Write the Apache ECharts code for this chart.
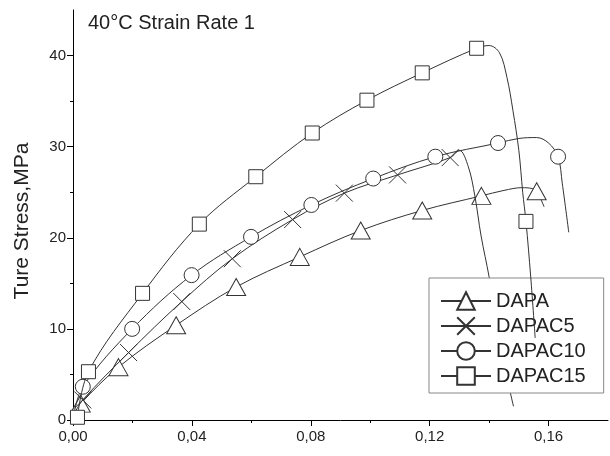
<!DOCTYPE html>
<html>
<head>
<meta charset="utf-8">
<script src="https://cdn.jsdelivr.net/npm/echarts@6/dist/echarts.min.js"></script>
<style>
html,body{margin:0;padding:0;background:#fff;}
#c{width:610px;height:456px;}
</style>
</head>
<body>
<div id="c"></div>
<script>
// ---- data ----
const titleText = '40°C Strain Rate 1';
const yName = 'Ture Stress,MPa';
const seriesNames = ['DAPA', 'DAPAC5', 'DAPAC10', 'DAPAC15'];

const xMin = 0, xMax = 0.18, yMin = 0, yMax = 45;
const xMajorTicks = [0, 0.04, 0.08, 0.12, 0.16];
const xMinorTicks = [0.02, 0.06, 0.10, 0.14];
const xTickLabels = ['0,00', '0,04', '0,08', '0,12', '0,16'];
const yMajorTicks = [0, 10, 20, 30, 40];
const yMinorTicks = [5, 15, 25, 35];
const yTickLabels = ['0', '10', '20', '30', '40'];

// marker flag: 1 = data point drawn with a symbol, 0 = curve point only
const dapaX = [0.0003, 0.0026, 0.0153, 0.0347, 0.0549, 0.0763, 0.0968, 0.1175, 0.1374, 0.145, 0.151, 0.1545, 0.156, 0.1585];
const dapaY = [0.6, 1.8, 5.8, 10.4, 14.6, 17.9, 20.8, 23.0, 24.6, 25.2, 25.5, 25.4, 25.1, 23.4];
const dapaM = [0, 1, 1, 1, 1, 1, 1, 1, 1, 0, 0, 0, 1, 0];

const dapac5X = [0.0003, 0.0033, 0.0187, 0.0366, 0.0536, 0.0739, 0.0913, 0.1092, 0.1269, 0.1300, 0.1330, 0.1352, 0.1373, 0.1400, 0.1445, 0.1482];
const dapac5Y = [0.6, 2.2, 7.4, 13.0, 17.7, 22.0, 24.9, 26.9, 28.8, 29.6, 27.8, 24.6, 20.2, 15.7, 7.0, 1.5];
const dapac5M = [0, 1, 1, 1, 1, 1, 1, 1, 1, 0, 0, 0, 0, 0, 0, 0];

const dapac10X = [0.0003, 0.0033, 0.0199, 0.0399, 0.0599, 0.0802, 0.1010, 0.1219, 0.1430, 0.1500, 0.1560, 0.1600, 0.1632, 0.1646, 0.1668];
const dapac10Y = [0.6, 3.65, 10.0, 15.9, 20.1, 23.6, 26.5, 28.9, 30.4, 30.9, 31.0, 30.4, 28.9, 26.0, 20.6];
const dapac10M = [0, 1, 1, 1, 1, 1, 1, 1, 1, 0, 0, 0, 1, 0, 0];

const dapac15X = [0.0015, 0.0052, 0.0234, 0.0425, 0.0615, 0.0805, 0.0989, 0.1175, 0.1358, 0.1400, 0.1435, 0.1460, 0.1480, 0.1500, 0.1513, 0.1524, 0.1540, 0.1555];
const dapac15Y = [0.3, 5.3, 13.9, 21.5, 26.7, 31.5, 35.1, 38.1, 40.8, 41.1, 40.3, 37.6, 34.0, 29.6, 25.0, 21.8, 15.7, 9.0];
const dapac15M = [1, 1, 1, 1, 1, 1, 1, 1, 1, 0, 0, 0, 0, 0, 0, 1, 0, 0];

// ---- chart ----
const FONT = 'Liberation Sans, Arial, sans-serif';
const INK = '#222';
const LINE = '#333';

function build(xs, ys, ms) {
  return xs.map(function (x, i) {
    const d = { value: [x, ys[i]] };
    if (!ms[i]) d.symbol = 'none';
    return d;
  });
}
const xSym = 'path://M0,0L10,10M10,0L0,10';
const symbols = ['triangle', xSym, 'circle', 'rect'];
const symSizes = [[19, 17], 17, 15, 14];
const allData = [
  build(dapaX, dapaY, dapaM),
  build(dapac5X, dapac5Y, dapac5M),
  build(dapac10X, dapac10Y, dapac10M),
  build(dapac15X, dapac15Y, dapac15M)
];

const chart = echarts.init(document.getElementById('c'), null, { renderer: 'canvas' });
chart.setOption({
  animation: false,
  backgroundColor: '#fff',
  textStyle: { fontFamily: FONT },
  title: {
    text: titleText,
    left: 83, top: 8,
    textStyle: { fontFamily: FONT, fontSize: 20, fontWeight: 'normal', color: INK }
  },
  grid: { left: 73, right: 2, top: 10, bottom: 36, containLabel: false },
  legend: {
    orient: 'vertical',
    left: 429, top: 278,
    padding: [13, 18, 7, 11],
    itemWidth: 50, itemHeight: 22, itemGap: 5,
    borderColor: '#888', borderWidth: 1,
    backgroundColor: '#fff',
    data: seriesNames,
    textStyle: { fontFamily: FONT, fontSize: 20, color: INK, lineHeight: 20 }
  },
  xAxis: [{
    type: 'value', min: xMin, max: xMax, position: 'bottom',
    axisLine: { show: true, onZero: false, lineStyle: { color: '#000', width: 1 } },
    axisTick: { show: true, length: 6, customValues: xMajorTicks, lineStyle: { color: '#000' } },
    axisLabel: {
      show: true, customValues: xMajorTicks, margin: 9,
      fontFamily: FONT, fontSize: 15, color: INK,
      formatter: function (v) { const i = xMajorTicks.findIndex(t => Math.abs(t - v) < 1e-9); return i >= 0 ? xTickLabels[i] : ''; }
    },
    splitLine: { show: false }
  }, {
    type: 'value', min: xMin, max: xMax, position: 'bottom',
    axisLine: { show: false },
    axisTick: { show: true, length: 3, customValues: xMinorTicks, lineStyle: { color: '#000' } },
    axisLabel: { show: false },
    splitLine: { show: false }
  }],
  yAxis: [{
    type: 'value', min: yMin, max: yMax, position: 'left',
    name: yName, nameLocation: 'middle', nameGap: 40,
    nameTextStyle: { fontFamily: FONT, fontSize: 21, color: INK, padding: [0, 12, 0, 0] },
    axisLine: { show: true, onZero: false, lineStyle: { color: '#000', width: 1 } },
    axisTick: { show: true, length: 6, customValues: yMajorTicks, lineStyle: { color: '#000' } },
    axisLabel: {
      show: true, customValues: yMajorTicks, margin: 7,
      fontFamily: FONT, fontSize: 15, color: INK,
      formatter: function (v) { const i = yMajorTicks.findIndex(t => Math.abs(t - v) < 1e-9); return i >= 0 ? yTickLabels[i] : ''; }
    },
    splitLine: { show: false }
  }, {
    type: 'value', min: yMin, max: yMax, position: 'left',
    axisLine: { show: false },
    axisTick: { show: true, length: 3, customValues: yMinorTicks, lineStyle: { color: '#000' } },
    axisLabel: { show: false },
    splitLine: { show: false }
  }],
  series: seriesNames.map(function (name, k) {
    return {
      name: name, type: 'line',
      xAxisIndex: 0, yAxisIndex: 0,
      data: allData[k],
      smooth: 0.35,
      showSymbol: true, showAllSymbol: true,
      symbol: symbols[k], symbolSize: symSizes[k],
      lineStyle: { color: LINE, width: 1 },
      itemStyle: { color: '#fff', borderColor: LINE, borderWidth: 1 },
      emphasis: { disabled: true },
      z: 2 + k
    };
  })
});
</script>
</body>
</html>
